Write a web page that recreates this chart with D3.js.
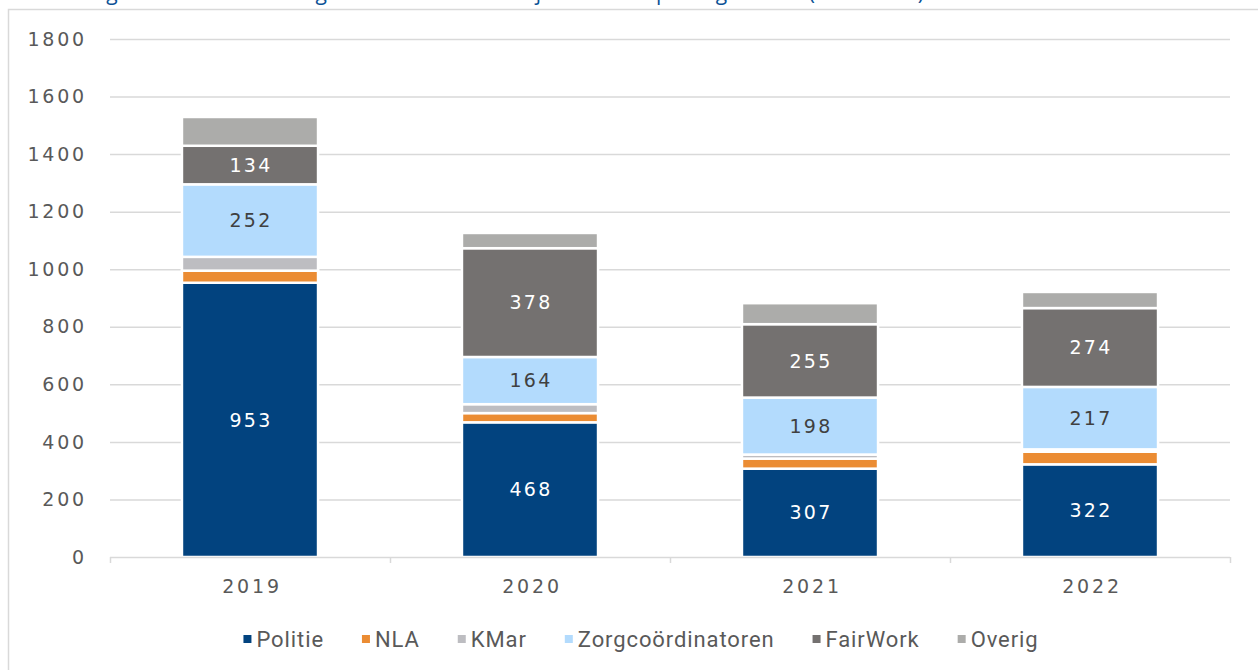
<!DOCTYPE html>
<html><head><meta charset="utf-8">
<script src="https://cdn.jsdelivr.net/npm/d3@7"></script>
<style>
html,body{margin:0;padding:0;background:#fff;}
svg{display:block;}
</style></head>
<body>
<script>
const years = ["2019","2020","2021","2022"];
const seriesNames = ["Politie","NLA","KMar","Zorgcoördinatoren","FairWork","Overig"];
const politie = [953,468,307,322];
const nla = [42,32,35,44];
const kmar = [48,31,14,8];
const zorg = [252,164,198,217];
const fairwork = [134,378,255,274];
const overig = [100,53,73,56];
const yTicks = [0,200,400,600,800,1000,1200,1400,1600,1800];
const labelledSeries = ["Politie","Zorgcoördinatoren","FairWork"];
const titleText = "Figuur 3. Aantal meldingen van slachtoffers bij CoMensha per organisatie (2019-2022)";

const colors = {
  "Politie":"#02437f","NLA":"#eb8c33","KMar":"#bdbdc1",
  "Zorgcoördinatoren":"#b3dbfd","FairWork":"#747170","Overig":"#acacaa"
};
const labelColors = {"Politie":"#ffffff","Zorgcoördinatoren":"#404040","FairWork":"#ffffff"};
const valuesBySeries = [politie,nla,kmar,zorg,fairwork,overig];

const W=1258,H=670;
const svg=d3.select("body").append("svg").attr("width",W).attr("height",H);

// frame
svg.append("rect").attr("x",8.5).attr("y",9.5).attr("width",W).attr("height",H)
  .attr("fill","none").attr("stroke","#d9d9d9").attr("stroke-width",1.5);

// title (cut off at top, as in the reference)
svg.append("text").attr("x",90).attr("y",0).attr("fill","#0c5296")
  .attr("font-family","'Open Sans', sans-serif").attr("font-size",21)
  .text(titleText);

const left=110,right=1230,top0=39,bottom=557;
const y=d3.scaleLinear().domain([0,1800]).range([bottom,top0]);
const x=d3.scaleBand().domain(years).range([left,right]).paddingInner(0.514).paddingOuter(0.257);

// grid
svg.append("g").selectAll("line").data(yTicks.filter(d=>d>0)).join("line")
  .attr("x1",left).attr("x2",right).attr("y1",d=>y(d)+0.5).attr("y2",d=>y(d)+0.5)
  .attr("stroke","#d9d9d9").attr("stroke-width",1.5);

// y labels
svg.append("g").selectAll("text").data(yTicks).join("text")
  .attr("x",87).attr("y",d=>y(d)).attr("dy","0.35em").attr("text-anchor","end")
  .attr("fill","#595959").attr("font-family","'DejaVu Sans', sans-serif")
  .attr("font-size",19).attr("letter-spacing",2.8).text(d=>d);

// stack
const table = years.map((yr,i)=>{
  const o={year:yr};
  seriesNames.forEach((s,j)=>o[s]=valuesBySeries[j][i]);
  return o;
});
const stacked=d3.stack().keys(seriesNames)(table);

const gBars=svg.append("g");
stacked.forEach(layer=>{
  const s=layer.key;
  gBars.selectAll(null).data(layer).join("rect")
    .attr("x",d=>x(d.data.year)).attr("width",x.bandwidth())
    .attr("y",d=>y(d[1])).attr("height",d=>y(d[0])-y(d[1]))
    .attr("fill",colors[s]).attr("stroke","#fff").attr("stroke-width",2.5);
});
// labels
stacked.filter(l=>labelledSeries.includes(l.key)).forEach(layer=>{
  const s=layer.key;
  gBars.selectAll(null).data(layer).join("text")
    .attr("x",d=>x(d.data.year)+x.bandwidth()/2+1)
    .attr("y",d=>(y(d[0])+y(d[1]))/2).attr("dy","0.35em")
    .attr("text-anchor","middle").attr("fill",labelColors[s])
    .attr("font-family","'DejaVu Sans', sans-serif").attr("font-size",19)
    .attr("letter-spacing",2.2).text(d=>d.data[s]);
});

// x axis
const gx=svg.append("g");
gx.append("line").attr("x1",left).attr("x2",right).attr("y1",bottom+0.5).attr("y2",bottom+0.5)
  .attr("stroke","#d9d9d9").attr("stroke-width",1.5);
const bounds=years.map(yr=>x(yr)-x.step()*x.paddingInner()/2).concat([right]);
bounds[0]=left;
gx.selectAll("line.t").data(bounds).join("line").attr("class","t")
  .attr("x1",d=>d+0.5).attr("x2",d=>d+0.5).attr("y1",bottom).attr("y2",bottom+6)
  .attr("stroke","#d9d9d9").attr("stroke-width",1.5);
gx.selectAll("text").data(years).join("text")
  .attr("x",d=>x(d)+x.bandwidth()/2+2).attr("y",586).attr("dy","0.35em")
  .attr("text-anchor","middle").attr("fill","#595959")
  .attr("font-family","'DejaVu Sans', sans-serif").attr("font-size",19)
  .attr("letter-spacing",2.8).text(d=>d);

// legend
const lg=svg.append("g");
const items=lg.selectAll("g").data(seriesNames).join("g");
items.append("rect").attr("width",8).attr("height",8).attr("y",-4).attr("fill",d=>colors[d]);
items.append("text").attr("x",13).attr("dy","0.35em").attr("fill","#595959")
  .attr("font-family","Roboto, sans-serif").attr("font-size",22).attr("letter-spacing",0.9).text(d=>d);
let cx=0; const gap=38;
const offs=[];
items.each(function(){
  const w=this.getBBox().width;
  offs.push(cx); cx+=w+gap;
});
const total=cx-gap;
const startX=(left+right)/2-total/2-29;
items.attr("transform",(d,i)=>`translate(${startX+offs[i]},639)`);
</script>
</body></html>
